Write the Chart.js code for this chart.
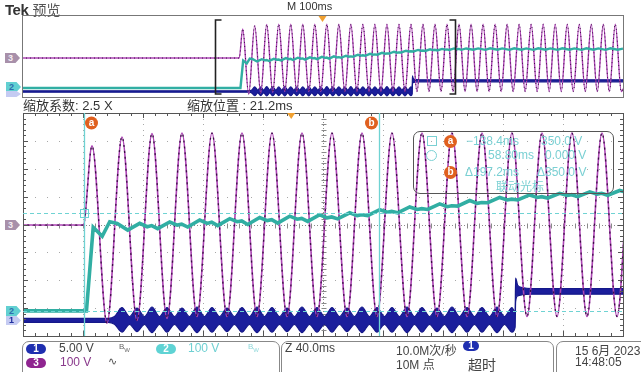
<!DOCTYPE html>
<html>
<head>
<meta charset="utf-8">
<script src="https://cdn.jsdelivr.net/npm/chart.js@4.4.0/dist/chart.umd.min.js"></script>
<style>
body { margin: 0; width: 641px; height: 372px; background: #fff; position: relative; overflow: hidden;
       font-family: "Liberation Sans", "Noto Sans CJK SC", sans-serif; color: #333; }
canvas { position: absolute; }
.abs { position: absolute; white-space: nowrap; }
.mark { position: absolute; width: 12px; height: 10px; font-size: 9px; line-height: 10px; padding-left: 3px;
        font-weight: bold; clip-path: polygon(0 0, 70% 0, 100% 50%, 70% 100%, 0 100%); }
.pill { position: absolute; width: 20px; height: 10px; border-radius: 5px; color: #fff; font-size: 10px;
        line-height: 10px; text-align: center; font-weight: bold; }
.box { position: absolute; border: 1px solid #888; border-radius: 7px; }
.ro { position: absolute; color: #7ad0d3; font-size: 12px; white-space: nowrap; }
.oc { position: absolute; width: 13px; height: 13px; border-radius: 50%; background: #e0601f; color: #fff;
      font-size: 10px; line-height: 12px; text-align: center; font-weight: bold; }
</style>
</head>
<body>
<canvas id="overview" width="611" height="92" style="left:17px;top:10px"></canvas>
<canvas id="main" width="610" height="233" style="left:18px;top:108px"></canvas>

<div class="abs" style="left:5px;top:-1px;font-size:15px"><b style="letter-spacing:-0.5px">Tek</b> <span style="color:#555;font-size:14px">预览</span></div>
<div class="abs" style="left:287px;top:0px;font-size:11px">M 100ms</div>
<div class="abs" style="left:23px;top:95px;font-size:13px">缩放系数: 2.5 X</div>
<div class="abs" style="left:187px;top:95px;font-size:13px">缩放位置 : 21.2ms</div>

<div class="mark" style="left:5px;top:53px;background:#a890aa;color:#f4eef4">3</div>
<div class="mark" style="left:6px;top:82px;background:#62d0d2;color:#2f6fae">2</div>
<div class="mark" style="left:6px;top:91px;background:#c5cbf2;color:#2030a0;height:6px"></div>
<div class="mark" style="left:5px;top:220px;background:#a890aa;color:#f4eef4">3</div>
<div class="mark" style="left:6px;top:306px;background:#62d0d2;color:#2f6fae">2</div>
<div class="mark" style="left:6px;top:316px;background:#c5cbf2;color:#2030a0;height:9px;line-height:9px">1</div>

<div class="abs" style="left:413px;top:131px;width:199px;height:61px;border:1px solid #555;border-radius:7px"></div>
<div class="ro" style="left:427px;top:136px;width:8px;height:8px;border:1px solid #7ad0d3"></div>
<div class="oc" style="left:444px;top:135px">a</div>
<div class="ro" style="left:466px;top:134px">−138.4ms</div>
<div class="ro" style="left:541px;top:134px">350.0 V</div>
<div class="ro" style="left:426px;top:150px;width:9px;height:9px;border:1px solid #7ad0d3;border-radius:50%"></div>
<div class="ro" style="left:488px;top:148px">58.80ms</div>
<div class="ro" style="left:545px;top:148px">0.000 V</div>
<div class="oc" style="left:444px;top:166px">b</div>
<div class="ro" style="left:465px;top:165px">Δ197.2ms</div>
<div class="ro" style="left:537px;top:165px">Δ350.0 V</div>
<div class="ro" style="left:496px;top:177px">联动光标</div>

<div class="box" style="left:22px;top:341px;width:256px;height:40px"></div>
<div class="pill" style="left:26px;top:344px;background:#1f2fb0">1</div>
<div class="abs" style="left:59px;top:341px;font-size:12px;color:#444">5.00 V</div>
<div class="abs" style="left:119px;top:342px;font-size:8px;color:#666">B<sub style="font-size:6px">W</sub></div>
<div class="pill" style="left:156px;top:344px;background:#5fd3d4">2</div>
<div class="abs" style="left:188px;top:341px;font-size:12px;color:#6fd0d2">100 V</div>
<div class="abs" style="left:248px;top:342px;font-size:8px;color:#8fd8da">B<sub style="font-size:6px">W</sub></div>
<div class="pill" style="left:26px;top:358px;background:#8f2590">3</div>
<div class="abs" style="left:60px;top:355px;font-size:12px;color:#8a3a8c">100 V</div>
<div class="abs" style="left:108px;top:355px;font-size:11px;color:#555">∿</div>

<div class="box" style="left:281px;top:341px;width:271px;height:40px"></div>
<div class="abs" style="left:285px;top:341px;font-size:12px;color:#444">Z 40.0ms</div>
<div class="abs" style="left:396px;top:341px;font-size:12px;color:#444">10.0M次/秒</div>
<div class="abs" style="left:396px;top:355px;font-size:12px;color:#444">10M 点</div>
<div class="pill" style="left:463px;top:341px;background:#1f2fb0;width:16px">1</div>
<div class="abs" style="left:468px;top:354px;font-size:14px;color:#444">超时</div>

<div class="box" style="left:556px;top:341px;width:100px;height:40px"></div>
<div class="abs" style="left:575px;top:341px;font-size:12px;color:#444">15 6月 2023</div>
<div class="abs" style="left:575px;top:355px;font-size:12px;color:#444">14:48:05</div>

<script>
// scope settings
const zoomWindow = [-178.8, 221.2];   // ms, Z 40.0ms/div, zoom position 21.2ms
const recordWindow = [-500, 500];     // ms, M 100ms/div
const mainVoltsPerDiv = [5, 100, 100];      // ch1, ch2, ch3
const overviewVoltsPerDiv = [5, 112, 100];
const mainOffsetDiv = [-3.44, -3.1, -0.02];
const overviewOffsetDiv = [-3.46, -3.12, -0.2];
const cursorTimes = [-138.4, 58.8];   // ms
const cursorLevels = [350, 0];        // V on ch2

// ch3 (magenta): flat until start, then 50 Hz extremes
const ch3Time = [-500, -138.6,
    -132.8, -122.8, -112.8, -102.8, -92.8, -82.8, -72.8, -62.8, -52.8, -42.8,
    -32.8, -22.8, -12.8, -2.8, 7.2, 17.2, 27.2, 37.2, 47.2, 57.2,
    67.2, 77.2, 87.2, 97.2, 107.2, 117.2, 127.2, 137.2, 147.2, 157.2,
    167.2, 177.2, 187.2, 197.2, 207.2, 217.2, 227.2, 237.2, 247.2, 257.2,
    267.2, 277.2, 287.2, 297.2, 307.2, 317.2, 327.2, 337.2, 347.2, 357.2,
    367.2, 377.2, 387.2, 397.2, 407.2, 417.2, 427.2, 437.2, 447.2, 457.2,
    467.2, 477.2, 487.2, 497.2, 500];
const ch3Volt = [0, 0,
    284, -352, 316, -342, 328, -335, 330, -328, 330, -328,
    330, -328, 330, -328, 330, -328, 330, -328, 330, -328,
    330, -328, 330, -328, 330, -328, 330, -328, 330, -328,
    330, -328, 330, -328, 330, -328, 330, -328, 330, -328,
    330, -328, 330, -328, 330, -328, 330, -328, 330, -328,
    330, -328, 330, -328, 330, -328, 330, -328, 330, -328,
    330, -328, 330, -328, -300];

// ch2 (cyan): DC bus with ripple
const ch2Time = [-500, -136.5, -132, -126, -121, -116,
    -109, -101, -96, -93, -89, -81, -76, -73, -69, -61, -56, -53,
    -49, -41, -36, -33, -29, -21, -16, -13, -9, -1, 4, 7,
    11, 19, 24, 27, 31, 39, 44, 47, 51, 59, 64, 67,
    71, 79, 84, 87, 91, 99, 104, 107, 111, 119, 124, 127,
    131, 139, 144, 147, 151, 159, 164, 167, 171, 179, 184, 187,
    191, 199, 204, 207, 211, 219, 224, 227,
    231, 239, 251, 259, 271, 279, 291, 299, 311, 319, 331, 339, 351, 359,
    371, 379, 391, 399, 411, 419, 431, 439, 451, 459, 471, 479, 491, 500];
const ch2Volt = [0, 0, 300, 268, 320, 314,
    290, 314, 302, 306, 295, 319, 308, 311, 301, 326, 314, 318,
    306, 331, 320, 323, 310, 335, 324, 327, 315, 340, 329, 332,
    321, 345, 334, 337, 330, 352, 342, 345, 342, 363, 354, 357,
    352, 373, 364, 367, 364, 384, 374, 377, 376, 396, 386, 389,
    388, 407, 398, 401, 398, 416, 407, 410, 405, 422, 414, 417,
    410, 427, 419, 422, 415, 432, 424, 427,
    417, 432, 418, 432, 417, 433, 418, 432, 417, 433, 418, 432, 417, 433,
    418, 432, 417, 433, 418, 432, 417, 433, 418, 432, 417, 433, 418, 430];

// ch1 (blue): noisy band envelope, then step
const ch1Time = [-500, -122,
    -117.8, -112.8, -107.8, -102.8, -97.8, -92.8, -87.8, -82.8, -77.8, -72.8,
    -67.8, -62.8, -57.8, -52.8, -47.8, -42.8, -37.8, -32.8, -27.8, -22.8,
    -17.8, -12.8, -7.8, -2.8, 2.2, 7.2, 12.2, 17.2, 22.2, 27.2,
    32.2, 37.2, 42.2, 47.2, 52.2, 57.2, 62.2, 67.2, 72.2, 77.2,
    82.2, 87.2, 92.2, 97.2, 102.2, 107.2, 112.2, 117.2, 122.2, 127.2,
    132.2, 137.2, 142.2, 147.2,
    149.3, 149.6, 151, 154, 160, 500];
const ch1High = [0.35, 0.35,
    0.7, 2.3, 0.7, 2.2, 0.7, 2.4, 0.7, 2.3, 0.7, 2.2,
    0.7, 2.4, 0.7, 2.3, 0.7, 2.2, 0.7, 2.3, 0.7, 2.4,
    0.7, 2.3, 0.7, 2.2, 0.7, 2.4, 0.7, 2.3, 0.7, 2.3,
    0.7, 2.2, 0.7, 2.4, 0.7, 2.3, 0.7, 2.3, 0.7, 2.4,
    0.7, 2.3, 0.7, 2.2, 0.7, 2.4, 0.7, 2.3, 0.7, 2.3,
    0.7, 2.4, 0.7, 2.3,
    1.4, 7.6, 6.3, 5.9, 5.7, 5.7];
const ch1Low = [-0.35, -0.35,
    -0.7, -2.1, -0.7, -2.0, -0.7, -2.2, -0.7, -2.1, -0.7, -2.0,
    -0.7, -2.2, -0.7, -2.1, -0.7, -2.0, -0.7, -2.1, -0.7, -2.2,
    -0.7, -2.1, -0.7, -2.0, -0.7, -2.2, -0.7, -2.1, -0.7, -2.1,
    -0.7, -2.0, -0.7, -2.2, -0.7, -2.1, -0.7, -2.1, -0.7, -2.2,
    -0.7, -2.1, -0.7, -2.0, -0.7, -2.2, -0.7, -2.1, -0.7, -2.1,
    -0.7, -2.2, -0.7, -2.1,
    -1.2, 3.3, 4.4, 4.6, 4.7, 4.7];

function points(times, values) {
    return times.map((t, i) => ({ x: t, y: values[i] }));
}

function yScale(ch, vdiv, offsets) {
    const v = vdiv[ch];
    return { type: "linear", display: false, min: (-4 - offsets[ch]) * v, max: (4 - offsets[ch]) * v };
}

// scope graticule: dotted divisions, centre cross and border ticks
const graticule = {
    id: "graticule",
    beforeDatasetsDraw(chart, args, opts) {
        if (!opts.grid) return;
        const { ctx, chartArea: a } = chart;
        const dx = (a.right - a.left) / 10;
        const dy = (a.bottom - a.top) / 8;
        ctx.save();
        ctx.fillStyle = "#a8a8a8";
        for (let i = 1; i < 10; i++) {
            if (i === 5) continue;
            const x = Math.round(a.left + i * dx);
            for (let j = 1; j < 40; j++) ctx.fillRect(x, Math.round(a.top + j * dy / 5), 1, 1);
        }
        for (let j = 1; j < 8; j++) {
            if (j === 4) continue;
            const y = Math.round(a.top + j * dy);
            for (let i = 1; i < 50; i++) ctx.fillRect(Math.round(a.left + i * dx / 5), y, 1, 1);
        }
        const cx = Math.round(a.left + 5 * dx) + 0.5;
        const cy = Math.round(a.top + 4 * dy) + 0.5;
        ctx.strokeStyle = "#8a8a8a";
        ctx.lineWidth = 1;
        ctx.beginPath();
        for (let j = 1; j < 40; j++) {
            const y = Math.round(a.top + j * dy / 5) + 0.5;
            ctx.moveTo(cx - 2, y);
            ctx.lineTo(cx + 3, y);
        }
        for (let i = 1; i < 50; i++) {
            const x = Math.round(a.left + i * dx / 5) + 0.5;
            ctx.moveTo(x, cy - 2);
            ctx.lineTo(x, cy + 3);
        }
        ctx.stroke();
        ctx.setLineDash([1, 2]);
        ctx.beginPath();
        ctx.moveTo(cx, a.top);
        ctx.lineTo(cx, a.bottom);
        ctx.moveTo(a.left, cy);
        ctx.lineTo(a.right, cy);
        ctx.stroke();
        ctx.restore();
    },
    afterDatasetsDraw(chart, args, opts) {
        const { ctx, chartArea: a } = chart;
        ctx.save();
        ctx.strokeStyle = opts.color || "#555";
        ctx.lineWidth = 1;
        ctx.strokeRect(Math.round(a.left) + 0.5, Math.round(a.top) + 0.5,
            Math.round(a.right - a.left), Math.round(a.bottom - a.top));
        if (opts.grid) {
            const dx = (a.right - a.left) / 50;
            const dy = (a.bottom - a.top) / 40;
            ctx.beginPath();
            for (let i = 1; i < 50; i++) {
                const x = Math.round(a.left + i * dx) + 0.5;
                const l = i % 5 === 0 ? 5 : 3;
                ctx.moveTo(x, a.top);
                ctx.lineTo(x, a.top + l);
                ctx.moveTo(x, a.bottom);
                ctx.lineTo(x, a.bottom - l);
            }
            for (let j = 1; j < 40; j++) {
                const y = Math.round(a.top + j * dy) + 0.5;
                const l = j % 5 === 0 ? 5 : 3;
                ctx.moveTo(a.left, y);
                ctx.lineTo(a.left + l, y);
                ctx.moveTo(a.right, y);
                ctx.lineTo(a.right - l, y);
            }
            ctx.stroke();
        }
        ctx.restore();
    },
};

// fills the ch1 band between its upper and lower envelope lines
const band = {
    id: "band",
    beforeDatasetDraw(chart, args) {
        if (args.index !== 4) return;
        const { ctx, chartArea: a } = chart;
        const hi = chart.getDatasetMeta(3).dataset;
        const lo = chart.getDatasetMeta(4).dataset;
        hi.updateControlPoints(a, "x");
        lo.updateControlPoints(a, "x");
        ctx.save();
        ctx.beginPath();
        ctx.rect(a.left, a.top, a.right - a.left, a.bottom - a.top);
        ctx.clip();
        ctx.beginPath();
        hi.pathSegment(ctx, hi.segments[0], { move: true });
        lo.pathSegment(ctx, lo.segments[0], { move: false, reverse: true });
        ctx.closePath();
        ctx.fillStyle = "#1b1e9c";
        ctx.fill();
        ctx.restore();
    },
};
Chart.register(graticule, band);

function triangle(ctx, x, y) {
    ctx.fillStyle = "#f0a030";
    ctx.beginPath();
    ctx.moveTo(x - 4, y);
    ctx.lineTo(x + 4, y);
    ctx.lineTo(x, y + 6);
    ctx.closePath();
    ctx.fill();
}

// cursors a/b and trigger marker on the zoom window
const cursors = {
    id: "cursors",
    afterDatasetsDraw(chart) {
        const { ctx, chartArea: a, scales } = chart;
        const xs = cursorTimes.map((t) => Math.round(scales.x.getPixelForValue(t)) + 0.5);
        const ys = cursorLevels.map((v) => Math.round(scales.y2.getPixelForValue(v)) + 0.5);
        ctx.save();
        ctx.strokeStyle = "#6fd3d3";
        ctx.lineWidth = 1.3;
        ctx.beginPath();
        xs.forEach((x) => { ctx.moveTo(x, a.top); ctx.lineTo(x, a.bottom); });
        ctx.stroke();
        ctx.setLineDash([4, 3]);
        ctx.lineWidth = 1;
        ctx.beginPath();
        ys.forEach((y) => { ctx.moveTo(a.left, y); ctx.lineTo(a.right, y); });
        ctx.stroke();
        ctx.setLineDash([]);
        ctx.strokeRect(xs[0] - 4, ys[0] - 4, 8, 8);
        triangle(ctx, scales.x.getPixelForValue(0), a.top);
        [["a", xs[0] + 7], ["b", xs[1] - 8]].forEach(([label, x]) => {
            ctx.fillStyle = "#e0601f";
            ctx.beginPath();
            ctx.arc(x, a.top + 10, 6.5, 0, Math.PI * 2);
            ctx.fill();
            ctx.fillStyle = "#fff";
            ctx.font = "bold 10px 'Liberation Sans'";
            ctx.textAlign = "center";
            ctx.textBaseline = "middle";
            ctx.fillText(label, x, a.top + 10.5);
        });
        ctx.restore();
    },
};

// brackets showing the zoom window inside the record
const brackets = {
    id: "brackets",
    afterDatasetsDraw(chart) {
        const { ctx, chartArea: a, scales } = chart;
        const x0 = Math.round(scales.x.getPixelForValue(zoomWindow[0])) + 0.5;
        const x1 = Math.round(scales.x.getPixelForValue(zoomWindow[1])) + 0.5;
        ctx.save();
        ctx.strokeStyle = "#222";
        ctx.lineWidth = 1.6;
        ctx.beginPath();
        ctx.moveTo(x0 + 6, a.top + 5); ctx.lineTo(x0, a.top + 5); ctx.lineTo(x0, a.bottom - 3); ctx.lineTo(x0 + 6, a.bottom - 3);
        ctx.moveTo(x1 - 6, a.top + 5); ctx.lineTo(x1, a.top + 5); ctx.lineTo(x1, a.bottom - 3); ctx.lineTo(x1 - 6, a.bottom - 3);
        ctx.stroke();
        triangle(ctx, scales.x.getPixelForValue(0), a.top + 1);
        ctx.restore();
    },
};

function makeDatasets(main) {
    return [
        {
            data: points(ch2Time, ch2Volt), yAxisID: "y2",
            borderColor: "#31aea3", borderWidth: main ? 3.6 : 2.4, tension: 0,
        },
        {
            data: points(ch3Time, ch3Volt), yAxisID: "y3", cubicInterpolationMode: "monotone",
            borderColor: "#3c0f46", borderWidth: main ? 1.3 : 1, borderDash: main ? [2, 4] : [1, 3],
        },
        {
            data: points(ch3Time, ch3Volt), yAxisID: "y3", cubicInterpolationMode: "monotone",
            borderColor: "#ad45b5", borderWidth: main ? 1.6 : 1.4,
        },
        {
            data: points(ch1Time, ch1High), yAxisID: "y1", cubicInterpolationMode: "monotone",
            borderColor: "#15188a", borderWidth: 1.2,
        },
        {
            data: points(ch1Time, ch1Low), yAxisID: "y1", cubicInterpolationMode: "monotone",
            borderColor: "#15188a", borderWidth: 1.2,
        },
    ];
}

function makeChart(id, range, vdiv, offsets, plugin, grid) {
    return new Chart(document.getElementById(id), {
        type: "line",
        data: { datasets: makeDatasets(grid) },
        options: {
            responsive: false,
            animation: false,
            devicePixelRatio: 1,
            events: [],
            layout: { padding: 5 },
            elements: { point: { radius: 0 } },
            plugins: {
                legend: { display: false },
                tooltip: { enabled: false },
                graticule: { grid: grid, color: grid ? "#555" : "#777" },
            },
            scales: {
                x: { type: "linear", display: false, min: range[0], max: range[1] },
                y1: yScale(0, vdiv, offsets),
                y2: yScale(1, vdiv, offsets),
                y3: yScale(2, vdiv, offsets),
            },
        },
        plugins: [plugin],
    });
}

makeChart("overview", recordWindow, overviewVoltsPerDiv, overviewOffsetDiv, brackets, false);
makeChart("main", zoomWindow, mainVoltsPerDiv, mainOffsetDiv, cursors, true);
</script>
</body>
</html>
